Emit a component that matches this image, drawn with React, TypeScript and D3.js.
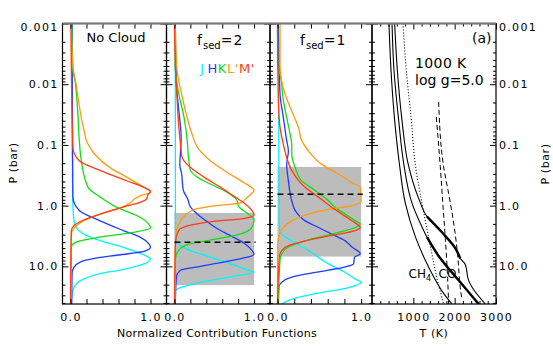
import React, { useEffect, useRef } from 'react';
import * as d3 from 'd3';

// [pressure (bar), normalized contribution]
const noCloudJ = [[0.001, 0.02], [0.1, 0.022], [1.0, 0.03], [1.8, 0.045], [2.4, 0.08], [3.0, 0.18], [3.8, 0.38], [4.6, 0.6], [5.6, 0.8], [6.6, 0.93], [7.6, 1.0], [9.1, 0.92], [11.5, 0.62], [13.2, 0.37], [16.2, 0.16], [19.5, 0.07], [25, 0.03], [41.7, 0.01]];
const noCloudH = [[0.001, 0.02], [0.1, 0.025], [0.72, 0.03], [1.2, 0.11], [1.78, 0.37], [2.57, 0.66], [3.31, 0.87], [4.27, 0.98], [4.8, 1.0], [5.6, 0.93], [6.5, 0.6], [7.4, 0.3], [8.5, 0.12], [10.5, 0.04], [13, 0.02], [41.7, 0.015]];
const noCloudK = [[0.001, 0.015], [0.006, 0.03], [0.0079, 0.05], [0.0275, 0.09], [0.085, 0.11], [0.182, 0.135], [0.5, 0.22], [0.72, 0.37], [1.07, 0.58], [1.55, 0.87], [2.34, 1.0], [2.75, 0.79], [3.31, 0.37], [3.98, 0.07], [4.8, 0.01], [41.7, 0.005]];
const noCloudL = [[0.001, 0.01], [0.005, 0.03], [0.01, 0.07], [0.0186, 0.1], [0.0513, 0.16], [0.0977, 0.22], [0.141, 0.3], [0.234, 0.49], [0.339, 0.7], [0.468, 0.88], [0.6, 1.0], [0.692, 0.87], [0.78, 0.8], [0.89, 0.75], [1.07, 0.64], [1.38, 0.37], [1.78, 0.16], [2.29, 0.05], [2.95, 0.01], [41.7, 0.005]];
const noCloudM = [[0.001, 0.005], [0.11, 0.03], [0.182, 0.11], [0.263, 0.37], [0.389, 0.7], [0.5, 0.92], [0.59, 1.0], [0.65, 0.97], [0.78, 0.95], [0.88, 0.87], [1.0, 0.72], [1.38, 0.37], [1.86, 0.11], [2.57, 0.01], [41.7, 0.0]];

const fsed2J = [[0.001, 0.01], [2.5, 0.012], [3.8, 0.03], [4.6, 0.08], [5.5, 0.2], [7.0, 0.45], [9.0, 0.7], [11.5, 0.92], [12.5, 1.0], [14.5, 0.75], [17.5, 0.4], [21, 0.15], [23, 0.05], [26, 0.01], [41.7, 0.0]];
const fsed2H = [[0.001, 0.01], [0.01, 0.025], [0.0275, 0.055], [0.076, 0.084], [0.13, 0.076], [0.21, 0.067], [0.3, 0.09], [0.55, 0.11], [0.8, 0.17], [1.05, 0.2], [1.5, 0.32], [2.0, 0.45], [2.5, 0.56], [3.2, 0.72], [4.2, 0.88], [5.4, 0.97], [6.3, 1.0], [7.0, 0.93], [8.3, 0.66], [10, 0.33], [11.5, 0.08], [14.8, 0.025], [41.7, 0.01]];
const fsed2K = [[0.001, 0.005], [0.0054, 0.01], [0.0145, 0.055], [0.035, 0.12], [0.085, 0.16], [0.18, 0.18], [0.26, 0.2], [0.34, 0.29], [0.44, 0.45], [0.6, 0.66], [0.8, 0.78], [1.05, 0.81], [1.35, 0.92], [1.7, 1.0], [2.3, 0.97], [3.0, 0.8], [3.6, 0.5], [4.3, 0.18], [5.5, 0.05], [7.5, 0.013], [41.7, 0.005]];
const fsed2L = [[0.001, 0.01], [0.0054, 0.03], [0.0166, 0.1], [0.0355, 0.16], [0.066, 0.22], [0.11, 0.29], [0.182, 0.45], [0.282, 0.66], [0.417, 0.87], [0.56, 1.0], [0.65, 0.96], [0.76, 0.9], [0.9, 0.83], [1.03, 0.45], [1.17, 0.24], [1.5, 0.12], [2.1, 0.05], [3.0, 0.015], [41.7, 0.005]];
const fsed2M = [[0.001, 0.0], [0.0054, 0.013], [0.0186, 0.034], [0.0513, 0.055], [0.0977, 0.076], [0.162, 0.097], [0.234, 0.2], [0.339, 0.37], [0.5, 0.58], [0.69, 0.74], [0.9, 0.87], [1.15, 0.96], [1.42, 1.0], [1.6, 0.9], [1.85, 0.45], [2.1, 0.2], [2.6, 0.05], [4.0, 0.013], [41.7, 0.0]];

const fsed1J = [[0.001, 0.01], [2.29, 0.02], [2.95, 0.05], [3.8, 0.17], [5.5, 0.37], [9.1, 0.61], [12.6, 0.81], [16.2, 0.93], [18.2, 1.0], [22.4, 0.85], [28.2, 0.45], [34.7, 0.17], [41.7, 0.05]];
const fsed1H = [[0.001, 0.01], [0.0145, 0.03], [0.0355, 0.07], [0.085, 0.11], [0.126, 0.13], [0.21, 0.11], [0.39, 0.13], [0.83, 0.17], [1.2, 0.21], [1.78, 0.33], [2.29, 0.49], [2.95, 0.65], [3.8, 0.81], [4.8, 0.89], [6.2, 0.99], [7.1, 0.92], [9.1, 0.91], [10.2, 0.81], [12.6, 0.45], [15.1, 0.17], [18.2, 0.05], [21.9, 0.016], [41.7, 0.01]];
const fsed1K = [[0.001, 0.0], [0.005, 0.0], [0.0069, 0.03], [0.0186, 0.07], [0.0355, 0.11], [0.066, 0.15], [0.098, 0.17], [0.141, 0.17], [0.234, 0.21], [0.389, 0.29], [0.562, 0.45], [0.832, 0.61], [1.07, 0.69], [1.38, 0.81], [1.78, 0.93], [2.0, 0.99], [2.29, 0.93], [2.95, 0.65], [3.8, 0.33], [4.8, 0.13], [6.2, 0.05], [7.9, 0.03], [41.7, 0.01]];
const fsed1L = [[0.001, 0.03], [0.005, 0.03], [0.0145, 0.09], [0.0275, 0.17], [0.0513, 0.25], [0.085, 0.29], [0.126, 0.37], [0.209, 0.53], [0.302, 0.73], [0.417, 0.89], [0.5, 0.99], [0.83, 1.0], [1.0, 0.89], [1.135, 0.65], [1.38, 0.37], [1.78, 0.17], [2.29, 0.07], [2.95, 0.02], [4.8, 0.0], [41.7, 0.0]];
const fsed1M = [[0.001, 0.0], [0.0186, 0.01], [0.0513, 0.03], [0.0977, 0.07], [0.162, 0.11], [0.263, 0.17], [0.5, 0.33], [0.724, 0.49], [1.07, 0.65], [1.38, 0.77], [1.78, 0.89], [2.29, 0.99], [2.57, 0.93], [3.09, 0.65], [3.8, 0.33], [4.57, 0.13], [5.5, 0.05], [7.08, 0.02], [41.7, 0.0]];

// cloud deck: [top, bottom, base line] in bar
const fsed2Cloud = [1.32, 20.4, 4.0];
const fsed1Cloud = [0.23, 6.9, 0.65];

// [pressure (bar), temperature (K)]
const noCloudT = [[0.001, 410], [0.0059, 460], [0.039, 548], [0.2, 661], [0.91, 806], [3.24, 1048], [7.94, 1290], [14.8, 1491], [27.9, 1733], [41.7, 1934]];
const fsed2T = [[0.001, 484], [0.0059, 532], [0.039, 645], [0.2, 766], [0.91, 967], [2.24, 1209], [3.31, 1330], [6.76, 1612], [17.0, 2096], [41.7, 2580]];
const fsed1T = [[0.001, 548], [0.0059, 613], [0.039, 725], [0.2, 870], [0.76, 1128], [1.51, 1330], [2.75, 1693], [5.01, 2015], [7.41, 2136], [9.33, 2257], [17.0, 2337], [21.9, 2418], [41.7, 2741]];
const fsed2Thick = [3.31, 41.7];
const fsed1Thick = [1.51, 7.41];
const condensT = [[0.001, 750], [0.0059, 830], [0.039, 951], [0.19, 1040], [0.91, 1209], [4.57, 1410], [15.8, 1572], [41.7, 1733]];
const ch4coA = [[0.0195, 1612], [0.229, 1733], [0.631, 1854], [2.24, 1990], [6.3, 2070], [22.4, 2136], [35.5, 2176]];
const ch4coB = [[0.0347, 1556], [0.229, 1652], [1.0, 1717], [4.0, 1780], [15.8, 1830], [41.7, 1854]];

const bands = ['J', 'H', 'K', "L'", "M'"];
const bandColors = ['#00f4ff', '#1f3cff', '#14dc14', '#ff9a10', '#ff3c12'];
const pressureTicks = [0.001, 0.01, 0.1, 1, 10];
const pressureLabels = ['0.001', '0.01', '0.1', '1.0', '10.0'];
const contribTicks = [0, 0.2, 0.4, 0.6, 0.8, 1.0];
const tempMajor = [1000, 2000, 3000];

const FONT = 'DejaVu Sans, sans-serif';

const App = () => {
  const chart = useRef<SVGSVGElement | null>(null);

  useEffect(() => {
    const svg = d3.select(chart.current);
    svg.selectAll('*').remove();

    const top = 23.5;
    const bottom = 304;
    const y = d3.scaleLog().domain([0.001, 41.7]).range([top, bottom]);
    const minorP = y.ticks().filter((t) => !pressureTicks.some((m) => Math.abs(m - t) < 1e-9));

    const addAxis = (gen: any, tr: string, ls = 1.3) => {
      const g: any = svg.append('g').attr('transform', tr).call(gen);
      g.select('.domain').remove();
      g.attr('font-family', FONT).attr('font-size', 11).attr('letter-spacing', ls);
      g.selectAll('line').attr('stroke-width', 1);
      return g;
    };

    const yAxes = (x0: number, x1: number, labelLeft: boolean, labelRight: boolean) => {
      const fmt = (on: boolean) => (d: any) => (on ? pressureLabels[pressureTicks.indexOf(d)] : '');
      const l = addAxis(d3.axisLeft(y).tickValues(pressureTicks).tickSize(-6).tickPadding(4).tickFormat(fmt(labelLeft)), `translate(${x0},0)`);
      addAxis(d3.axisLeft(y).tickValues(minorP).tickSize(-3).tickFormat(() => ''), `translate(${x0},0)`);
      const r = addAxis(d3.axisRight(y).tickValues(pressureTicks).tickSize(-6).tickPadding(3).tickFormat(fmt(labelRight)), `translate(${x1},0)`);
      addAxis(d3.axisRight(y).tickValues(minorP).tickSize(-3).tickFormat(() => ''), `translate(${x1},0)`);
      [l, r].forEach((g) => g.selectAll('text').filter((d: any) => d === 0.001).attr('y', 3.5));
    };

    const panels = [
      { x0: 62.5, x1: 166.5, dom: [-0.1, 1.2], series: [noCloudJ, noCloudH, noCloudK, noCloudL, noCloudM], cloud: null },
      { x0: 166.5, x1: 270, dom: [-0.1, 1.2], series: [fsed2J, fsed2H, fsed2K, fsed2L, fsed2M], cloud: fsed2Cloud },
      { x0: 270, x1: 372, dom: [-0.09, 1.13], series: [fsed1J, fsed1H, fsed1K, fsed1L, fsed1M], cloud: fsed1Cloud },
    ];

    panels.forEach((p, i) => {
      const x = d3.scaleLinear().domain(p.dom).range([p.x0, p.x1]);
      svg.append('clipPath').attr('id', `clip${i}`)
        .append('rect').attr('x', p.x0).attr('y', top).attr('width', p.x1 - p.x0).attr('height', bottom - top);
      const g = svg.append('g').attr('clip-path', `url(#clip${i})`);

      if (p.cloud) {
        g.append('rect')
          .attr('x', x(0)).attr('width', x(1) - x(0))
          .attr('y', y(p.cloud[0])).attr('height', y(p.cloud[1]) - y(p.cloud[0]))
          .attr('fill', '#bcbcbc');
      }

      const line = d3.line<number[]>().x((d) => x(d[1])).y((d) => y(d[0])).curve(d3.curveMonotoneY);
      p.series.forEach((s, k) => {
        g.append('path').attr('d', line(s as number[][])).attr('fill', 'none')
          .attr('stroke', bandColors[k]).attr('stroke-width', 1.3);
      });

      if (p.cloud) {
        g.append('line')
          .attr('x1', x(0)).attr('x2', x(1.02))
          .attr('y1', y(p.cloud[2])).attr('y2', y(p.cloud[2]))
          .attr('stroke', '#000').attr('stroke-width', 1.6).attr('stroke-dasharray', '6,4');
      }

      addAxis(d3.axisTop(x).tickValues(contribTicks).tickSize(-5).tickFormat(() => ''), `translate(0,${top})`);
      addAxis(
        d3.axisBottom(x).tickValues(contribTicks).tickSize(-5).tickPadding(9)
          .tickFormat((d: any) => (d === 0 || d === 1 ? d3.format('.1f')(d) : '')),
        `translate(0,${bottom})`
      );
      yAxes(p.x0, p.x1, i === 0, false);
    });

    // temperature panel
    const tx0 = 372;
    const tx1 = 496;
    const xT = d3.scaleLinear().domain([0, 3000]).range([tx0, tx1]);
    const minorT = d3.range(200, 3000, 200).filter((t) => t % 1000 !== 0);
    svg.append('clipPath').attr('id', 'clipT')
      .append('rect').attr('x', tx0).attr('y', top).attr('width', tx1 - tx0).attr('height', bottom - top);
    const gT = svg.append('g').attr('clip-path', 'url(#clipT)');
    const tLine = d3.line<number[]>().x((d) => xT(d[1])).y((d) => y(d[0])).curve(d3.curveMonotoneY);

    gT.append('path').attr('d', tLine(condensT as number[][])).attr('fill', 'none')
      .attr('stroke', '#000').attr('stroke-width', 1.1).attr('stroke-dasharray', '1,2');
    [ch4coA, ch4coB].forEach((s) => {
      gT.append('path').attr('d', tLine(s as number[][])).attr('fill', 'none')
        .attr('stroke', '#000').attr('stroke-width', 1).attr('stroke-dasharray', '5,3');
    });
    [noCloudT, fsed2T, fsed1T].forEach((s) => {
      gT.append('path').attr('d', tLine(s as number[][])).attr('fill', 'none')
        .attr('stroke', '#000').attr('stroke-width', 1.1);
    });
    [[fsed2T, fsed2Thick], [fsed1T, fsed1Thick]].forEach(([s, r]) => {
      const part = (s as number[][]).filter((d) => d[0] >= r[0] - 1e-9 && d[0] <= r[1] + 1e-9);
      gT.append('path').attr('d', tLine(part)).attr('fill', 'none')
        .attr('stroke', '#000').attr('stroke-width', 2.4);
    });

    addAxis(d3.axisTop(xT).tickValues(tempMajor).tickSize(-6).tickFormat(() => ''), `translate(0,${top})`);
    addAxis(d3.axisTop(xT).tickValues(minorT).tickSize(-3).tickFormat(() => ''), `translate(0,${top})`);
    addAxis(d3.axisBottom(xT).tickValues(tempMajor).tickSize(-6).tickPadding(9).tickFormat((d: any) => String(d)), `translate(0,${bottom})`);
    addAxis(d3.axisBottom(xT).tickValues(minorT).tickSize(-3).tickFormat(() => ''), `translate(0,${bottom})`);
    yAxes(tx0, tx1, false, true);

    // frames
    [...panels.map((p) => [p.x0, p.x1]), [tx0, tx1]].forEach(([a, b]) => {
      svg.append('rect').attr('x', a).attr('y', top).attr('width', b - a).attr('height', bottom - top)
        .attr('fill', 'none').attr('stroke', '#000').attr('stroke-width', 1.2);
    });
    svg.append('line').attr('x1', panels[0].x0).attr('x2', tx1).attr('y1', top).attr('y2', top)
      .attr('stroke', '#7a7a7a').attr('stroke-width', 2);

    const text = (x: number, yy: number, s: string, size: number, anchor = 'start', ls = 0) =>
      svg.append('text').attr('x', x).attr('y', yy).attr('font-family', FONT).attr('font-size', size)
        .attr('text-anchor', anchor).attr('letter-spacing', ls).attr('fill', '#000').text(s);

    text(86.5, 42, 'No Cloud', 13);

    [[197, '2'], [300, '1']].forEach(([x, v]) => {
      const t = svg.append('text').attr('x', x).attr('y', 45).attr('font-family', FONT).attr('font-size', 14);
      t.append('tspan').attr('letter-spacing', 1).text('f');
      t.append('tspan').attr('font-size', 10).attr('dy', 4).text('sed');
      t.append('tspan').attr('dy', -4).attr('letter-spacing', 1.2).text(`=${v}`);
    });

    const legend = svg.append('text').attr('x', 200).attr('y', 73).attr('font-family', FONT)
      .attr('font-size', 13).attr('letter-spacing', 0.6);
    bands.forEach((b, k) => legend.append('tspan').attr('dx', k === 1 ? 3 : 0).attr('fill', bandColors[k]).text(b));

    text(472, 43, '(a)', 14);
    text(415, 68, '1000 K', 14, 'start', 0.4);
    text(415, 85, 'log g=5.0', 14);

    const ch4 = svg.append('text').attr('x', 408.5).attr('y', 278).attr('font-family', FONT).attr('font-size', 12);
    ch4.append('tspan').text('CH');
    ch4.append('tspan').attr('font-size', 8).attr('dy', 3).text('4');
    text(438.5, 278, 'CO', 12);

    text(217, 337, 'Normalized Contribution Functions', 11, 'middle', 0.3);
    text(434, 337, 'T (K)', 11, 'middle', 0.6);

    svg.append('text').attr('transform', 'translate(17,163) rotate(-90)').attr('text-anchor', 'middle')
      .attr('font-family', FONT).attr('font-size', 11).attr('letter-spacing', 0.6).text('P (bar)');
    svg.append('text').attr('transform', 'translate(549,164) rotate(-90)').attr('text-anchor', 'middle')
      .attr('font-family', FONT).attr('font-size', 11).attr('letter-spacing', 0.6).text('P (bar)');
  }, []);

  return (
    <svg
      ref={chart}
      width={553}
      height={350}
      style={{ position: 'absolute', left: 0, top: 0, background: '#fff' }}
    />
  );
};

export default App;
